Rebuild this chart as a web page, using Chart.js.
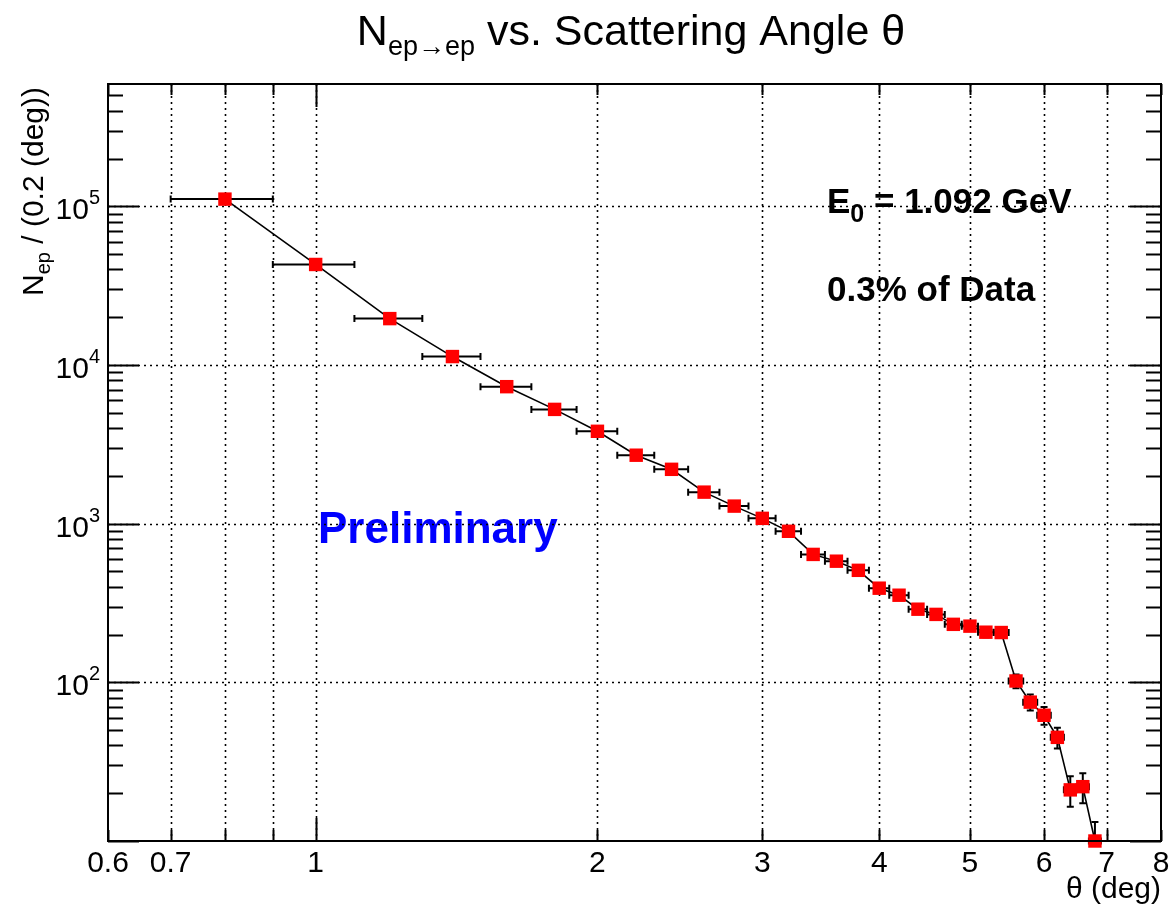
<!DOCTYPE html>
<html>
<head>
<meta charset="utf-8">
<script src="https://cdn.jsdelivr.net/npm/chart.js@4.4.1/dist/chart.umd.min.js"></script>
<style>
  html, body { margin: 0; padding: 0; background: #fff; }
  #wrap { width: 1173px; height: 909px; }
</style>
</head>
<body>
<div id="wrap"><canvas id="nep"></canvas></div>
<script>
// scattering angle bin centres (deg) and counts per 0.2 deg bin
const theta = [0.8, 1.0, 1.2, 1.4, 1.6, 1.8, 2.0, 2.2, 2.4, 2.6, 2.8, 3.0, 3.2, 3.4, 3.6, 3.8,
               4.0, 4.2, 4.4, 4.6, 4.8, 5.0, 5.2, 5.4, 5.6, 5.8, 6.0, 6.2, 6.4, 6.6, 6.8];
const counts = [111000, 43000, 19600, 11300, 7300, 5250, 3820, 2700, 2200, 1580, 1290, 1080, 895, 640, 580, 508,
                392, 354, 289, 268, 232, 226, 207, 206, 102, 75, 62, 45, 21, 22, 10];
const binHalfWidth = 0.1;

const xTicks = [0.6, 0.7, 0.8, 0.9, 1, 2, 3, 4, 5, 6, 7, 8];
const xTickLabels = ["0.6", "0.7", "", "", "1", "2", "3", "4", "5", "6", "7", "8"];
const yDecades = [100, 1000, 10000, 100000];
const yDecadeExp = ["2", "3", "4", "5"];

const FONT = "'Liberation Sans', Arial, Helvetica, sans-serif";

// draws a row of text pieces (used for sub/superscripts)
function drawRuns(ctx, runs, x, y, align) {
  let total = 0;
  runs.forEach(r => { ctx.font = r.font; total += ctx.measureText(r.t).width; });
  let cx = align === "center" ? x - total / 2 : align === "right" ? x - total : x;
  ctx.textAlign = "left";
  ctx.textBaseline = "alphabetic";
  runs.forEach(r => {
    ctx.font = r.font;
    ctx.fillStyle = r.color || "#000";
    ctx.fillText(r.t, cx, y + (r.dy || 0));
    cx += ctx.measureText(r.t).width;
  });
}

const rootStyle = {
  id: "rootStyle",
  beforeDatasetsDraw(chart) {
    const { ctx, chartArea: a, scales: { x, y } } = chart;
    ctx.save();

    // labels inside the frame (grid is drawn over them)
    drawRuns(ctx, [
      { t: "E", font: "bold 35px " + FONT },
      { t: "0", font: "bold 25px " + FONT, dy: 9 },
      { t: " = 1.092 GeV", font: "bold 35px " + FONT }
    ], 827, 213, "left");
    drawRuns(ctx, [{ t: "0.3% of Data", font: "bold 35px " + FONT }], 827, 301, "left");
    drawRuns(ctx, [{ t: "Preliminary", font: "bold 44px " + FONT, color: "#0000ff" }], 318, 543, "left");

    // dotted grid
    ctx.strokeStyle = "#000";
    ctx.lineWidth = 1.6;
    ctx.setLineDash([2, 4]);
    xTicks.forEach(v => {
      if (v <= x.min || v >= x.max) return;
      const px = Math.round(x.getPixelForValue(v)) + 0.5;
      ctx.beginPath(); ctx.moveTo(px, a.top); ctx.lineTo(px, a.bottom); ctx.stroke();
    });
    yDecades.forEach(v => {
      const py = Math.round(y.getPixelForValue(v)) + 0.5;
      ctx.beginPath(); ctx.moveTo(a.left, py); ctx.lineTo(a.right, py); ctx.stroke();
    });
    ctx.setLineDash([]);

    // error bars
    ctx.lineWidth = 2;
    const cap = 3.5;
    theta.forEach((t, i) => {
      const n = counts[i];
      const px = x.getPixelForValue(t);
      const py = y.getPixelForValue(n);
      const x0 = x.getPixelForValue(t - binHalfWidth);
      const x1 = x.getPixelForValue(t + binHalfWidth);
      const e = Math.sqrt(n);
      const y0 = y.getPixelForValue(n + e);
      const y1 = Math.min(y.getPixelForValue(Math.max(n - e, 1)), a.bottom);
      ctx.beginPath();
      ctx.moveTo(x0, py); ctx.lineTo(x1, py);
      ctx.moveTo(x0, py - cap); ctx.lineTo(x0, py + cap);
      ctx.moveTo(x1, py - cap); ctx.lineTo(x1, py + cap);
      ctx.moveTo(px, y0); ctx.lineTo(px, y1);
      ctx.moveTo(px - cap, y0); ctx.lineTo(px + cap, y0);
      if (y1 < a.bottom) { ctx.moveTo(px - cap, y1); ctx.lineTo(px + cap, y1); }
      ctx.stroke();
    });
    ctx.restore();
  },
  afterDraw(chart) {
    const { ctx, chartArea: a, scales: { x, y } } = chart;
    ctx.save();
    ctx.strokeStyle = "#000";

    // frame
    ctx.lineWidth = 2;
    ctx.strokeRect(a.left, a.top, a.right - a.left, a.bottom - a.top);

    // x ticks, bottom and top
    ctx.beginPath();
    xTicks.forEach(v => {
      const px = Math.round(x.getPixelForValue(v)) + 0.5;
      const len = v === 1 ? 23 : 11;
      ctx.moveTo(px, a.bottom); ctx.lineTo(px, a.bottom - len);
      ctx.moveTo(px, a.top); ctx.lineTo(px, a.top + len);
    });
    // y ticks, left and right
    for (let d = 10; d <= y.max; d *= 10) {
      for (let k = 1; k <= 9; k++) {
        const v = k * d;
        if (v < y.min || v > y.max) continue;
        const py = Math.round(y.getPixelForValue(v)) + 0.5;
        const len = k === 1 ? 31 : 15;
        ctx.moveTo(a.left, py); ctx.lineTo(a.left + len, py);
        ctx.moveTo(a.right, py); ctx.lineTo(a.right - len, py);
      }
    }
    ctx.stroke();

    // x tick labels
    ctx.fillStyle = "#000";
    ctx.font = "30px " + FONT;
    ctx.textAlign = "center";
    ctx.textBaseline = "alphabetic";
    xTicks.forEach((v, i) => {
      if (!xTickLabels[i]) return;
      ctx.fillText(xTickLabels[i], x.getPixelForValue(v), a.bottom + 31);
    });

    // y tick labels 10^n
    yDecades.forEach((v, i) => {
      const py = y.getPixelForValue(v);
      ctx.textAlign = "right";
      ctx.font = "20px " + FONT;
      const ew = ctx.measureText(yDecadeExp[i]).width;
      ctx.fillText(yDecadeExp[i], 100, py - 2);
      ctx.font = "30px " + FONT;
      ctx.fillText("10", 100 - ew, py + 13);
    });

    // axis titles
    drawRuns(ctx, [
      { t: "\u03b8 (deg)", font: "30px " + FONT }
    ], a.right, 898, "right");

    ctx.save();
    ctx.translate(43, 87);
    ctx.rotate(-Math.PI / 2);
    drawRuns(ctx, [
      { t: "N", font: "30px " + FONT },
      { t: "ep", font: "20px " + FONT, dy: 7 },
      { t: " / (0.2 (deg))", font: "30px " + FONT }
    ], 0, 0, "right");
    ctx.restore();

    // title
    drawRuns(ctx, [
      { t: "N", font: "43px " + FONT },
      { t: "ep\u2192ep", font: "27px " + FONT, dy: 10 },
      { t: " vs. Scattering Angle \u03b8", font: "43px " + FONT }
    ], 631, 45, "center");

    ctx.restore();
  }
};

new Chart(document.getElementById("nep"), {
  type: "scatter",
  data: {
    datasets: [{
      data: theta.map((t, i) => ({ x: t, y: counts[i] })),
      showLine: true,
      borderColor: "#000",
      borderWidth: 1.6,
      tension: 0,
      pointStyle: "rect",
      pointRadius: 9.5,
      pointBorderWidth: 0,
      pointBackgroundColor: "#ff0000",
      pointBorderColor: "#ff0000",
      clip: false
    }]
  },
  options: {
    responsive: true,
    maintainAspectRatio: false,
    animation: false,
    devicePixelRatio: 1,
    layout: { padding: { left: 108, right: 12, top: 84, bottom: 68 } },
    plugins: {
      legend: { display: false },
      tooltip: { enabled: false }
    },
    scales: {
      x: { type: "logarithmic", min: 0.6, max: 8, display: false },
      y: { type: "logarithmic", min: 10, max: 590000, display: false }
    }
  },
  plugins: [rootStyle]
});
</script>
</body>
</html>
